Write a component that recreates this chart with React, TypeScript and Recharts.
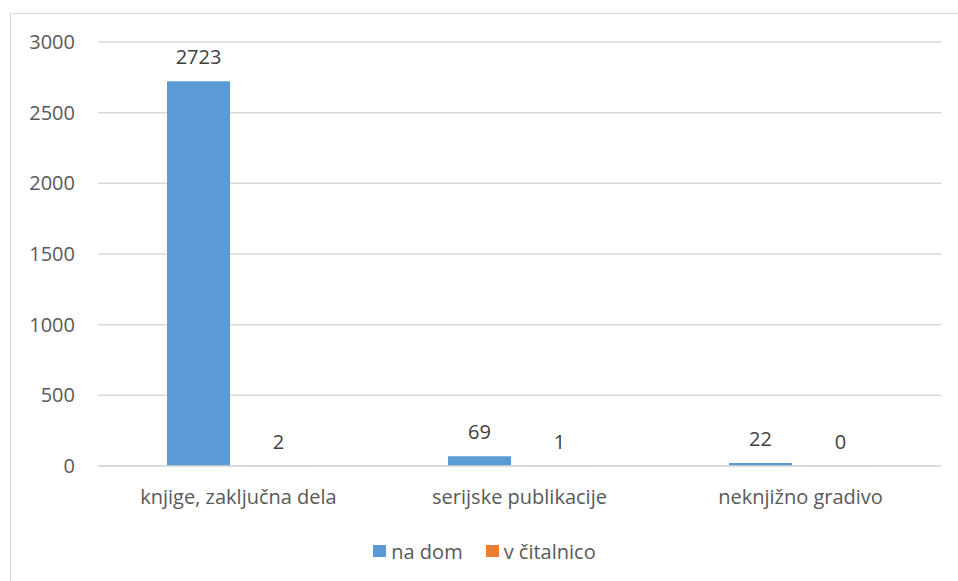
import { BarChart, Bar, XAxis, YAxis, CartesianGrid, Legend, LabelList } from "recharts";

const categories = ["knjige, zaključna dela", "serijske publikacije", "neknjižno gradivo"];
const naDom = [2723, 69, 22];
const vCitalnico = [2, 1, 0];
const yTicks = [0, 500, 1000, 1500, 2000, 2500, 3000];

const BLUE = "#5B9BD5";
const ORANGE = "#ED7D31";
const FONT = "'Open Sans', sans-serif";
const FS = 20;

const data = categories.map((name, i) => ({
  name,
  naDom: naDom[i],
  vCitalnico: vCitalnico[i],
}));

const LegendBox = () => (
  <div
    style={{
      display: "flex",
      justifyContent: "center",
      alignItems: "center",
      fontFamily: FONT,
      fontSize: FS,
      color: "#595959",
      height: 26,
    }}
  >
    <span style={{ width: 13, height: 12, background: BLUE, marginRight: 5 }} />
    <span style={{ marginRight: 23 }}>na dom</span>
    <span style={{ width: 13, height: 12, background: ORANGE, marginRight: 5 }} />
    <span>v čitalnico</span>
  </div>
);

export default function App() {
  return (
    <div
      style={{
        position: "absolute",
        left: 10,
        top: 13,
        width: 947,
        height: 567,
        borderLeft: "1px solid #d9d9d9",
        borderTop: "1px solid #d9d9d9",
        background: "#fff",
      }}
    >
      <BarChart
        width={947}
        height={567}
        data={data}
        margin={{ top: 28, right: 17, left: 0, bottom: 0 }}
        barGap={17}
        barSize={63}
      >
        <CartesianGrid vertical={false} stroke="#d9d9d9" strokeWidth={1.5} />
        <XAxis
          dataKey="name"
          axisLine={{ stroke: "#d9d9d9", strokeWidth: 1.5 }}
          tickLine={false}
          tickMargin={18}
          height={89}
          tick={{ fill: "#595959", fontSize: FS, fontFamily: FONT }}
        />
        <YAxis
          width={87}
          domain={[0, 3000]}
          ticks={yTicks}
          axisLine={false}
          tickLine={false}
          tickMargin={17}
          tick={{ fill: "#595959", fontSize: FS, fontFamily: FONT }}
        />
        <Legend
          content={<LegendBox />}
          wrapperStyle={{ top: 524, left: 0, width: 947 }}
        />
        <Bar dataKey="naDom" name="na dom" fill={BLUE} isAnimationActive={false} minPointSize={0.3}>
          <LabelList
            dataKey="naDom"
            position="top"
            offset={17}
            fill="#404040"
            fontSize={FS}
            fontFamily={FONT}
          />
        </Bar>
        <Bar dataKey="vCitalnico" name="v čitalnico" fill={ORANGE} isAnimationActive={false} minPointSize={0.3}>
          <LabelList
            dataKey="vCitalnico"
            position="top"
            offset={17}
            fill="#404040"
            fontSize={FS}
            fontFamily={FONT}
          />
        </Bar>
      </BarChart>
    </div>
  );
}
